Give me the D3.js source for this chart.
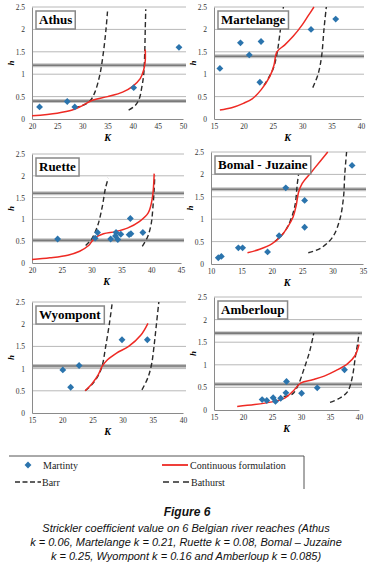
<!DOCTYPE html>
<html>
<head>
<meta charset="utf-8">
<script src="https://cdn.jsdelivr.net/npm/d3@7"></script>
<style>
  body { margin: 0; background: #fff; }
  svg { display: block; }
</style>
</head>
<body>
<svg class="chart" width="374" height="576"></svg>
<script>

// reach names and axis ranges
let reaches = ["Athus", "Martelange", "Ruette", "Bomal - Juzaine", "Wyompont", "Amberloup"];
let kDomains = [[20, 50], [15, 40], [20, 45], [10, 35], [15, 40], [15, 40]];
let kTicks = [
  [20, 25, 30, 35, 40, 45, 50],
  [15, 20, 25, 30, 35, 40],
  [20, 25, 30, 35, 40, 45],
  [10, 15, 20, 25, 30, 35],
  [15, 20, 25, 30, 35, 40],
  [15, 20, 25, 30, 35, 40]
];
let hTicks = [0, 0.5, 1, 1.5, 2, 2.5];

// measured points (Martinty) [K, h]
let martinty = [
  [[21.5, 0.27], [27, 0.39], [28.5, 0.27], [40.2, 0.7], [49.2, 1.6]],
  [[16, 1.13], [19.5, 1.7], [21, 1.43], [23, 1.73], [22.8, 0.82], [31.5, 2.0], [35.7, 2.23]],
  [[24.3, 0.55], [30.6, 0.57], [31, 0.7], [33.2, 0.55], [34, 0.62], [34.1, 0.7], [34.4, 0.54],
   [34.9, 0.66], [36.3, 0.65], [36.6, 0.67], [36.5, 1.02], [38.6, 0.7]],
  [[11.2, 0.14], [11.7, 0.17], [14.5, 0.36], [15.2, 0.36], [19.3, 0.27], [21.2, 0.63],
   [22.3, 1.7], [25.4, 1.42], [25.4, 0.82], [33.2, 2.2]],
  [[20.1, 0.97], [21.4, 0.58], [22.8, 1.07], [29.9, 1.65], [34.1, 1.65]],
  [[23.3, 0.23], [24.1, 0.21], [25.2, 0.27], [25.6, 0.19], [26.5, 0.26], [27.5, 0.63],
   [27.4, 0.38], [30.1, 0.37], [32.8, 0.49], [37.5, 0.89]]
];

// continuous formulation curves
let continuous = [
  [[20, 0.07], [25, 0.13], [28, 0.2], [30, 0.3], [32, 0.42], [35, 0.5], [38, 0.6], [40, 0.73],
   [41.5, 0.9], [42.2, 1.1], [42.5, 1.3], [42.5, 1.55]],
  [[16, 0.2], [18, 0.25], [20, 0.35], [21.5, 0.45], [23, 0.65], [24.5, 0.95], [25.2, 1.2],
   [25.7, 1.5], [27, 1.65], [28.5, 1.85], [30, 2.1], [31, 2.3], [32, 2.5]],
  [[20, 0.08], [23, 0.12], [26, 0.18], [28, 0.27], [29.5, 0.4], [30.5, 0.57], [32, 0.67],
   [34, 0.72], [36, 0.8], [38, 0.95], [39.5, 1.15], [40.2, 1.5], [40.5, 2.05]],
  [[16, 0.25], [18, 0.33], [20, 0.45], [21.5, 0.62], [22.5, 0.8], [23.5, 1.05], [24, 1.3],
   [24.4, 1.6], [25, 1.8], [26.5, 2.05], [28, 2.3], [29.2, 2.5]],
  [[23.8, 0.5], [25, 0.67], [26, 0.87], [26.6, 1.05], [27.5, 1.2], [29, 1.35], [31, 1.5],
   [33, 1.75], [34.2, 2.02]],
  [[19, 0.08], [22, 0.12], [25, 0.18], [27, 0.25], [28.5, 0.4], [30, 0.6], [32, 0.67],
   [34, 0.75], [36, 0.87], [38, 1.02], [39.3, 1.2], [40, 1.45]]
];

// Barr (left dashed curve)
let barr = [
  [[28.5, 0.25], [30, 0.3], [31.5, 0.4], [32.5, 0.6], [33.5, 1.0], [34.2, 1.5], [34.7, 2.0], [35, 2.4]],
  [[23.5, 0.75], [25, 1.1], [25.7, 1.45], [26.2, 1.9], [26.8, 2.5]],
  [[29, 0.4], [30, 0.55], [31, 0.85], [31.8, 1.3], [32.3, 1.7], [32.8, 1.95]],
  [[20.5, 0.5], [22, 0.7], [23, 0.95], [23.8, 1.3], [24.2, 1.8], [24.4, 2.0]],
  [[23.8, 0.5], [25, 0.65], [26, 0.85], [26.6, 1.05], [27.2, 1.5], [27.8, 2.0], [28.3, 2.5]],
  [[27, 0.3], [28.5, 0.35], [29.5, 0.55], [30.5, 0.9], [31.5, 1.3], [32.2, 1.7]]
];

// Bathurst (right dashed curve)
let bathurst = [
  [[39.2, 0.2], [40.5, 0.3], [41.3, 0.45], [41.8, 0.7], [42.2, 1.0], [42.4, 1.5], [42.5, 2.0], [42.6, 2.45]],
  [[31.8, 0.7], [32.7, 1.0], [33.3, 1.4], [33.7, 2.0], [34.1, 2.5]],
  [[38.5, 0.38], [39.4, 0.6], [40, 0.9], [40.3, 1.3], [40.5, 1.7], [40.6, 2.0]],
  [[26, 0.25], [28, 0.35], [30, 0.6], [31.2, 1.0], [31.8, 1.5], [32, 2.0], [32.3, 2.5]],
  [[33.2, 0.52], [34.2, 0.8], [34.8, 1.1], [35.2, 1.5], [35.6, 2.0], [36, 2.5]],
  [[35, 0.17], [36.5, 0.25], [38, 0.4], [38.8, 0.7], [39.4, 1.2], [39.8, 1.5], [40, 1.7]]
];

// thick horizontal reference levels
let levels = [[0.4, 1.2], [1.4], [0.52, 1.6], [1.67], [1.06], [0.57, 1.7]];

let svg = d3.select("svg.chart");

// plot boxes [left, top, right, bottom]
let boxes = [
  [32, 7, 183, 119],
  [214, 7, 361, 119],
  [32, 154, 181, 263],
  [211, 152, 363, 264],
  [32, 302, 183, 413],
  [214, 297, 359, 410]
];

let blue = "#2b74ad";
let red = "#ee2a24";
let dark = "#2b2b2b";
let serif = "'Liberation Serif', 'Times New Roman', serif";
let sans = "'Liberation Sans', Arial, sans-serif";

reaches.forEach(function(name, i) {
  let [x0, y0, x1, y1] = boxes[i];
  let x = d3.scaleLinear().domain(kDomains[i]).range([x0, x1]);
  let y = d3.scaleLinear().domain([0, 2.5]).range([y1, y0]);
  let g = svg.append("g").attr("class", "panel");

  // grid
  g.selectAll(".grid").data(hTicks.slice(1)).join("line")
    .attr("x1", x0).attr("x2", x1 + 3)
    .attr("y1", d => y(d)).attr("y2", d => y(d))
    .attr("stroke", "#b8b8b8").attr("stroke-width", 1);

  // reference levels
  levels[i].forEach(function(v) {
    g.append("line").attr("x1", x0).attr("x2", x1 + 3).attr("y1", y(v)).attr("y2", y(v))
      .attr("stroke", "#c4c4c4").attr("stroke-width", 4);
    g.append("line").attr("x1", x0).attr("x2", x1 + 3).attr("y1", y(v)).attr("y2", y(v))
      .attr("stroke", "#7a7a7a").attr("stroke-width", 1.6);
  });

  // axes
  let yAxis = d3.axisLeft(y).tickValues(hTicks).tickSize(0).tickPadding(7)
    .tickFormat(d3.format("~g"));
  let xAxis = d3.axisBottom(x).tickValues(kTicks[i]).tickSize(0).tickPadding(5);
  let yg = g.append("g").attr("transform", translate(x0, 0)).call(yAxis);
  let xg = g.append("g").attr("transform", translate(0, y1)).call(xAxis);
  [yg, xg].forEach(function(a) {
    a.select(".domain").attr("stroke", "#8a8a8a");
    a.selectAll("text").attr("font-family", serif).attr("font-size", 7.5).attr("fill", "#333");
  });

  // curves
  let line = d3.line().x(d => x(d[0])).y(d => y(d[1])).curve(d3.curveCatmullRom);
  g.append("path").datum(barr[i]).attr("d", line)
    .attr("fill", "none").attr("stroke", dark).attr("stroke-width", 1.4)
    .attr("stroke-dasharray", "5,3");
  g.append("path").datum(bathurst[i]).attr("d", line)
    .attr("fill", "none").attr("stroke", dark).attr("stroke-width", 1.4)
    .attr("stroke-dasharray", "5,3");
  g.append("path").datum(continuous[i]).attr("d", line)
    .attr("fill", "none").attr("stroke", red).attr("stroke-width", 1.5);

  // points
  g.selectAll(".pt").data(martinty[i]).join("path")
    .attr("d", d3.symbol(d3.symbolDiamond2, 30))
    .attr("transform", d => translate(x(d[0]), y(d[1])))
    .attr("fill", blue);

  // title box
  let boxRect = g.append("rect");
  let title = g.append("text")
    .attr("x", x0 + 7).attr("y", y0 + 17)
    .attr("font-family", serif).attr("font-weight", "bold").attr("font-size", 13)
    .attr("fill", "#000").text(name);
  let bb = title.node().getBBox();
  boxRect
    .attr("x", bb.x - 3).attr("y", y0 + 4)
    .attr("width", bb.width + 6).attr("height", 18)
    .attr("fill", "#fff").attr("stroke", "#888").attr("stroke-width", 1.5);

  // axis titles
  g.append("text")
    .attr("x", (x0 + x1) / 2).attr("y", y1 + 22)
    .attr("text-anchor", "middle")
    .attr("font-family", serif).attr("font-weight", "bold").attr("font-style", "italic")
    .attr("font-size", 10).text("K");
  g.append("text")
    .attr("transform", translate(x0 - 18, (y0 + y1) / 2) + " rotate(-90)")
    .attr("text-anchor", "middle")
    .attr("font-family", serif).attr("font-weight", "bold").attr("font-style", "italic")
    .attr("font-size", 9).text("h");
});

// legend
let legend = svg.append("g").attr("class", "legend");
legend.append("path").attr("d", "M9,456H304V489")
  .attr("fill", "none").attr("stroke", "#555").attr("stroke-width", 1);

let legendItems = [
  {label: "Martinty", x: 28, y: 465, type: "point"},
  {label: "Continuous formulation", x: 162, y: 465, type: "red"},
  {label: "Barr", x: 15, y: 482, type: "barr"},
  {label: "Bathurst", x: 163, y: 482, type: "bathurst"}
];
legendItems.forEach(function(d) {
  if (d.type === "point") {
    legend.append("path").attr("d", d3.symbol(d3.symbolDiamond2, 30))
      .attr("transform", translate(d.x, d.y)).attr("fill", blue);
    legend.append("text").attr("x", d.x + 15).attr("y", d.y + 3.5)
      .attr("font-family", serif).attr("font-size", 10).attr("fill", "#222").text(d.label);
  } else {
    let dash = d.type === "barr" ? "5,2.5" : "6,4";
    legend.append("line").attr("x1", d.x).attr("x2", d.x + 26).attr("y1", d.y).attr("y2", d.y)
      .attr("stroke", d.type === "red" ? red : dark).attr("stroke-width", d.type === "red" ? 1.8 : 1.4)
      .attr("stroke-dasharray", d.type === "red" ? null : dash);
    legend.append("text").attr("x", d.x + (d.type === "barr" ? 27 : 28)).attr("y", d.y + 3.5)
      .attr("font-family", serif).attr("font-size", 10).attr("fill", "#222").text(d.label);
  }
});

// caption
let caption = [
  "Strickler coefficient value on 6 Belgian river reaches (Athus",
  "k = 0.06, Martelange k = 0.21, Ruette k = 0.08, Bomal \u2013 Juzaine",
  "k = 0.25, Wyompont k = 0.16 and Amberloup k = 0.085)"
];
svg.append("text").attr("x", 187).attr("y", 516).attr("text-anchor", "middle")
  .attr("font-family", sans).attr("font-weight", "bold").attr("font-style", "italic")
  .attr("font-size", 12).attr("fill", "#111").text("Figure 6");
svg.selectAll(".cap").data(caption).join("text")
  .attr("x", 186).attr("y", (d, i) => 532 + i * 14)
  .attr("text-anchor", "middle")
  .attr("font-family", sans).attr("font-style", "italic")
  .attr("font-size", 11).attr("fill", "#111").text(d => d);

function translate(x, y) {
  return 'translate(' + x + ',' + y + ')';
}
</script>
</body>
</html>
